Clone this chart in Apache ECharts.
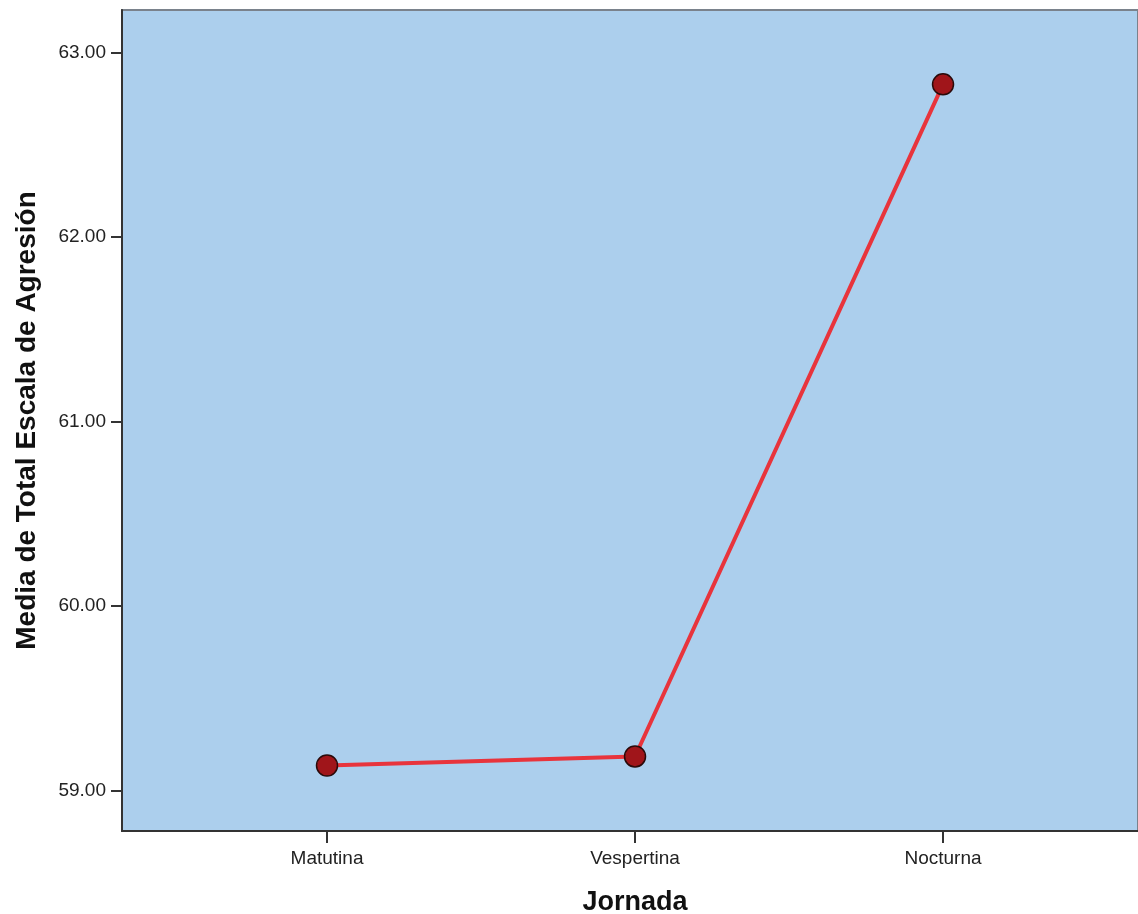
<!DOCTYPE html>
<html>
<head>
<meta charset="utf-8">
<script src="https://cdn.jsdelivr.net/npm/echarts@6/dist/echarts.min.js"></script>
<style>
html,body{margin:0;padding:0;background:#fff;}
#chart{width:1138px;height:914px;}
</style>
</head>
<body>
<div id="chart"></div>
<script>
const categories = ['Matutina', 'Vespertina', 'Nocturna'];
const means = [59.135, 59.184, 62.827];
const yTicks = [59, 60, 61, 62, 63];
const yTitle = 'Media de Total Escala de Agresión';
const xTitle = 'Jornada';

const catIdx = categories.map((c, i) => i);
const chart = echarts.init(document.getElementById('chart'));
chart.setOption({
  animation: false,
  backgroundColor: '#ffffff',
  grid: {
    left: 122, top: 10, bottom: 83, right: 0,
    outerBoundsMode: 'none', containLabel: false,
    show: true, backgroundColor: '#accfed',
    borderColor: '#7a828c', borderWidth: 2
  },
  xAxis: {
    type: 'value',
    min: -0.6656, max: 2.633,
    splitLine: { show: false },
    axisLine: { show: true, onZero: false, lineStyle: { color: '#333', width: 2 } },
    axisTick: { show: true, customValues: catIdx, length: 12, lineStyle: { color: '#333', width: 2 } },
    axisLabel: {
      customValues: catIdx, margin: 18,
      formatter: v => categories[Math.round(v)] || '',
      fontFamily: 'Liberation Sans, Arial', fontSize: 19, color: '#222'
    },
    name: xTitle, nameLocation: 'middle', nameGap: 58,
    nameTextStyle: { fontFamily: 'Liberation Sans, Arial', fontSize: 27, fontWeight: 'bold', color: '#111', verticalAlign: 'top', padding: [0, 0, 0, 10] }
  },
  yAxis: {
    type: 'value',
    min: 58.78, max: 63.23,
    splitLine: { show: false },
    axisLine: { show: true, onZero: false, lineStyle: { color: '#333', width: 2 } },
    axisTick: { show: true, customValues: yTicks, length: 11, lineStyle: { color: '#333', width: 2 } },
    axisLabel: {
      customValues: yTicks, margin: 16,
      formatter: v => v.toFixed(2),
      fontFamily: 'Liberation Sans, Arial', fontSize: 19, color: '#222'
    },
    name: yTitle, nameLocation: 'middle', nameGap: 81, nameRotate: 90,
    nameTextStyle: { fontFamily: 'Liberation Sans, Arial', fontSize: 28, fontWeight: 'bold', color: '#111' }
  },
  series: [{
    type: 'line',
    data: means.map((m, i) => [i, m]),
    lineStyle: { color: '#e8343c', width: 4 },
    symbol: 'circle', symbolSize: 21,
    itemStyle: { color: '#a0151a', borderColor: '#2a0a0a', borderWidth: 1.5 },
    z: 5
  }]
});
</script>
</body>
</html>
